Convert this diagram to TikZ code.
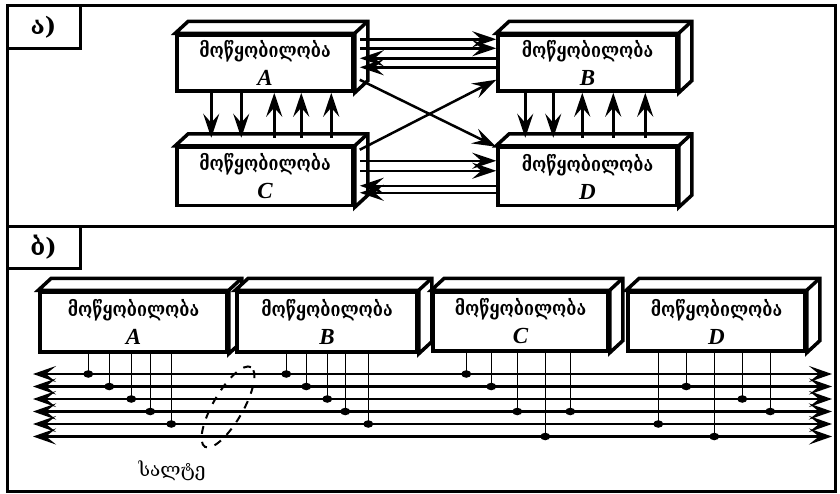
\documentclass[tikz,border=0pt]{standalone}
\usepackage{fontspec}
\usepackage{graphicx}
\setmainfont{Liberation Serif}
\newfontfamily\geofont{DejaVu Serif}
\usetikzlibrary{arrows.meta,shapes.geometric}

\newcommand{\devword}{\scalebox{0.81}[1]{\geofont\bfseries\fontsize{20}{28}\selectfont მოწყობილობა}}

\tikzset{
  devfront/.style={draw, line width=3.5pt, fill=white, inner sep=0pt, align=center,
    font=\fontsize{18}{28}\selectfont},
  devside/.style={draw, line width=3.5pt, fill=white},
  arr/.style={line width=2.5pt, -{Stealth[length=24pt,width=16pt,inset=9pt]}},
  bus/.style={line width=2.5pt,
    {Stealth[length=23pt,width=16pt,inset=10pt]}-{Stealth[length=23pt,width=16pt,inset=10pt]}},
  tap/.style={line width=1.3pt},
  dot/.style={ellipse, fill, inner sep=0pt, minimum width=10pt, minimum height=7.5pt},
}

%% box with top and side face: name, position, width, height, letter
\newcommand{\devbox}[5]{%
  \node[devfront, minimum width=#3, minimum height=#4] (#1) at #2
    {\devword\\ {\fontsize{23}{28}\selectfont\bfseries\itshape #5}};
  \draw[devside] (#1.north west) -- ([shift={(13,-12)}]#1.north west)
    -- ([shift={(13,-12)}]#1.north east) -- ([shift={(13,-12)}]#1.south east)
    -- (#1.south east) -- (#1.north east) -- cycle;
  \draw[devside] (#1.north east) -- ([shift={(13,-12)}]#1.north east);
}

\begin{document}
\begin{tikzpicture}[x=1pt,y=-1pt]
    \useasboundingbox (0,0) rectangle (840,493);
    %% frame
    \draw[line width=3pt] (7,5) rectangle (835,491);
    \draw[line width=3pt] (7,226) -- (835,226);
    \draw[line width=3pt] (7,5) rectangle (80,48);
    \draw[line width=3pt] (7,226) rectangle (80,268);
    \node[font=\geofont\bfseries\fontsize{24}{26}\selectfont] (la) at (43.5,27) {ა)};
    \node[font=\geofont\bfseries\fontsize{24}{26}\selectfont] (lb) at (43.5,247) {ბ)};

    %%% panel a
    \devbox{aA}{(265,63)}{176pt}{56pt}{A}
    \devbox{aB}{(587.5,63)}{179pt}{56pt}{B}
    \devbox{aC}{(265,176.5)}{176pt}{58pt}{C}
    \devbox{aD}{(587.5,176.5)}{179pt}{58pt}{D}
    %% A <-> C
    \foreach \dx in {36,66}
        \draw[arr] ([xshift=\dx pt]aA.south west) -- ([xshift=\dx pt,yshift=8pt]aC.north west);
    \foreach \dx in {99,126,156}
        \draw[arr] ([xshift=\dx pt,yshift=8pt]aC.north west) -- ([xshift=\dx pt]aA.south west);
    %% B <-> D
    \foreach \dx in {29,57}
        \draw[arr] ([xshift=\dx pt]aB.south west) -- ([xshift=\dx pt,yshift=8pt]aD.north west);
    \foreach \dx in {86,117,149}
        \draw[arr] ([xshift=\dx pt,yshift=8pt]aD.north west) -- ([xshift=\dx pt]aB.south west);
    %% A <-> B
    \foreach \dy in {6,15}
        \draw[arr] ([xshift=5pt,yshift=-\dy pt]aA.north east) -- ([yshift=-\dy pt]aB.north west);
    \foreach \dy in {25,34}
        \draw[arr] ([yshift=-\dy pt]aB.north west) -- ([xshift=5pt,yshift=-\dy pt]aA.north east);
    %% C <-> D
    \foreach \dy in {15,25}
        \draw[arr] ([xshift=5pt,yshift=-\dy pt]aC.north east) -- ([yshift=-\dy pt]aD.north west);
    \foreach \dy in {40,47}
        \draw[arr] ([yshift=-\dy pt]aD.north west) -- ([xshift=5pt,yshift=-\dy pt]aC.north east);
    %% crossing
    \draw[arr] ([xshift=5pt,yshift=13pt]aA.south east) -- ([yshift=-1pt]aD.north west);
    \draw[arr] ([xshift=5pt,yshift=-4pt]aC.north east) -- ([yshift=13pt]aB.south west);

    %%% panel b
    \devbox{bA}{(133.5,322)}{187pt}{60pt}{A}
    \devbox{bB}{(327,322)}{180pt}{60pt}{B}
    \devbox{bC}{(520.5,321.5)}{175pt}{59pt}{C}
    \devbox{bD}{(716.5,321.5)}{177pt}{59pt}{D}
    %% bus lines
    \foreach \i/\y in {1/374,2/386.5,3/399,4/411.5,5/424,6/436.5} {
        \coordinate (L\i) at (33,\y);
        \coordinate (R\i) at (832,\y);
    }
    \foreach \i in {1,2,3,5,6}
        \draw[bus] (L\i) -- (R\i);
    \draw[bus, line width=3.5pt] (L4) -- (R4);
    %% taps
    \foreach \b/\dx/\l in {bA/50/1, bA/71/2, bA/93/3, bA/112/4, bA/133/5,
                           bB/51/1, bB/71/2, bB/92/3, bB/110/4, bB/133/5,
                           bC/35/1, bC/60/2, bC/86/4, bC/114/6, bC/139/4,
                           bD/32/5, bD/60/2, bD/88/6, bD/116/3, bD/144/4}
        \draw[tap] ([xshift=\dx pt]\b.south west) coordinate (t) -- (t |- L\l) node[dot] {};
    %% bus mark
    \node[draw, dashed, dash pattern=on 8pt off 8pt, line width=2pt, ellipse,
          minimum width=92pt, minimum height=30pt, rotate=60] (busmark) at (228,407) {};
    \node[font=\geofont\fontsize{19}{20}\selectfont] (buslabel) at (172,471) {სალტე};
\end{tikzpicture}
\end{document}
